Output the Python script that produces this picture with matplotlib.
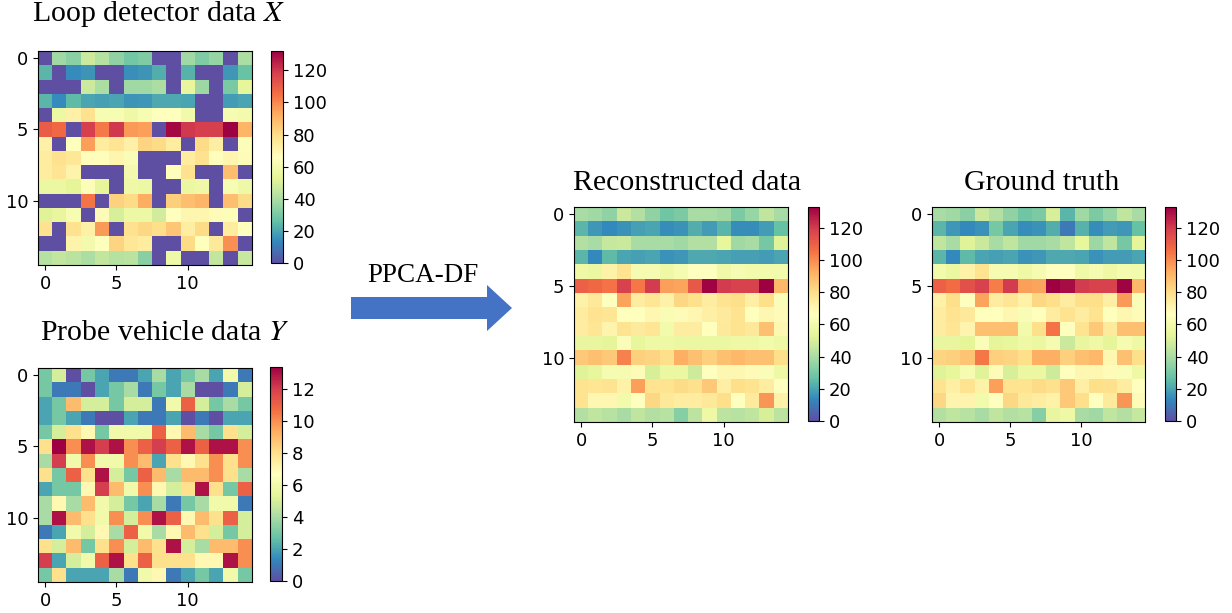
import numpy as np
import matplotlib
matplotlib.use("Agg")
import matplotlib.pyplot as plt
from matplotlib.patches import FancyArrow

plt.rcParams["mathtext.fontset"] = "stix"
plt.rcParams["font.family"] = ["DejaVu Sans"]

# Ground-truth traffic state (15 x 15)
ground_truth = [
    [40, 38, 34, 47, 42, 35, 29, 31, 50, 24, 38, 31, 36, 45, 40],
    [24, 17, 14, 16, 30, 20, 15, 16, 22, 10, 23, 15, 18, 17, 27],
    [45, 40, 52, 47, 40, 45, 38, 38, 40, 45, 55, 37, 45, 30, 54],
    [24, 14, 25, 20, 19, 20, 16, 17, 21, 21, 20, 16, 18, 18, 20],
    [60, 57, 72, 78, 62, 62, 58, 62, 66, 66, 59, 62, 58, 61, 60],
    [110, 107, 114, 118, 103, 120, 96, 95, 133, 130, 120, 118, 118, 132, 90],
    [72, 80, 66, 95, 74, 77, 72, 82, 80, 74, 80, 80, 73, 97, 64],
    [74, 78, 76, 67, 67, 70, 63, 67, 74, 78, 74, 78, 67, 70, 68],
    [74, 77, 71, 88, 88, 88, 60, 80, 105, 67, 78, 86, 75, 88, 88],
    [56, 56, 53, 64, 54, 55, 58, 57, 62, 47, 56, 58, 54, 62, 58],
    [83, 84, 87, 104, 84, 83, 80, 92, 92, 84, 88, 90, 70, 88, 80],
    [52, 55, 62, 52, 68, 50, 57, 57, 48, 66, 70, 70, 68, 64, 58],
    [78, 73, 78, 72, 96, 78, 78, 81, 79, 86, 73, 80, 79, 74, 66],
    [82, 71, 71, 60, 66, 82, 76, 74, 72, 86, 80, 66, 75, 98, 68],
    [42, 45, 43, 40, 45, 42, 43, 33, 56, 58, 40, 38, 45, 42, 46],
]

# Reconstruction from PPCA-DF
reconstructed = [
    [40, 38, 35, 47, 42, 35, 29, 31, 40, 40, 38, 31, 36, 45, 40],
    [24, 17, 14, 16, 19, 20, 15, 16, 22, 18, 24, 15, 15, 18, 27],
    [42, 40, 46, 47, 40, 40, 40, 38, 42, 42, 55, 38, 40, 30, 52],
    [24, 14, 25, 20, 19, 20, 16, 17, 21, 21, 20, 19, 19, 18, 20],
    [58, 57, 72, 78, 62, 62, 58, 62, 66, 66, 59, 62, 60, 60, 60],
    [110, 108, 105, 118, 104, 120, 96, 95, 112, 132, 120, 118, 118, 133, 90],
    [72, 76, 66, 95, 74, 77, 72, 82, 79, 74, 78, 80, 73, 80, 64],
    [74, 78, 77, 67, 67, 70, 63, 68, 70, 73, 75, 78, 67, 70, 68],
    [74, 77, 71, 78, 75, 77, 60, 74, 74, 67, 76, 78, 76, 88, 70],
    [56, 56, 54, 64, 55, 58, 58, 57, 57, 57, 57, 58, 58, 60, 58],
    [86, 88, 86, 102, 84, 83, 80, 92, 88, 84, 88, 90, 88, 88, 80],
    [52, 55, 62, 62, 68, 50, 57, 57, 48, 66, 70, 70, 68, 64, 58],
    [78, 77, 78, 72, 96, 78, 78, 81, 79, 86, 73, 80, 78, 74, 66],
    [78, 70, 70, 60, 66, 82, 76, 74, 74, 76, 80, 66, 75, 98, 72],
    [42, 45, 43, 40, 45, 42, 43, 33, 44, 58, 44, 43, 45, 50, 44],
]

# Loop detector observations (0 = missing)
loop_detector = [
    [0, 38, 34, 47, 42, 35, 29, 31, 0, 0, 38, 31, 36, 0, 40],
    [24, 0, 14, 16, 0, 0, 15, 16, 22, 0, 23, 0, 0, 17, 27],
    [0, 0, 0, 47, 40, 0, 38, 38, 40, 0, 55, 37, 0, 30, 54],
    [24, 14, 25, 20, 19, 20, 16, 17, 21, 21, 20, 0, 0, 18, 20],
    [0, 57, 72, 78, 62, 62, 58, 62, 66, 66, 59, 0, 0, 61, 60],
    [110, 107, 0, 118, 103, 120, 96, 95, 0, 130, 120, 118, 118, 132, 90],
    [72, 0, 66, 95, 74, 77, 72, 82, 80, 74, 0, 80, 73, 0, 64],
    [74, 78, 76, 67, 67, 70, 63, 0, 0, 0, 74, 78, 67, 70, 68],
    [74, 77, 71, 0, 0, 0, 60, 0, 0, 67, 78, 0, 0, 88, 0],
    [56, 56, 53, 64, 54, 0, 58, 57, 0, 0, 56, 58, 0, 62, 58],
    [0, 0, 0, 104, 0, 83, 80, 92, 0, 84, 88, 90, 0, 88, 80],
    [52, 55, 62, 0, 68, 50, 57, 57, 48, 66, 70, 70, 68, 64, 0],
    [78, 0, 78, 72, 96, 0, 78, 81, 79, 86, 73, 80, 0, 74, 66],
    [0, 0, 71, 60, 66, 82, 76, 74, 0, 0, 80, 66, 75, 98, 0],
    [42, 45, 43, 40, 45, 42, 43, 33, 0, 58, 0, 0, 45, 0, 46],
]

# Probe vehicle counts
probe_vehicle = [
    [3, 5, 0, 3, 2, 1, 1, 2, 4, 2, 3, 4, 2, 6, 1],
    [3, 1, 1, 0, 2, 3, 4, 1, 3, 2, 4, 0, 0, 1, 5],
    [2, 3, 9, 5, 5, 3, 5, 5, 1, 6, 11, 5, 3, 4, 3],
    [2, 3, 2, 1, 0, 0, 2, 1, 1, 2, 0, 1, 0, 2, 2],
    [3, 5, 8, 7, 3, 6, 6, 6, 11, 7, 9, 4, 3, 8, 5],
    [8, 13.4, 10, 13, 12, 13, 10, 11, 12, 11, 13, 11, 13, 13, 10],
    [4, 12, 6, 10, 6, 6, 10, 9, 2, 8, 7, 8, 10, 8, 10],
    [8, 3, 11, 8, 13, 5, 3, 11, 9, 4, 9, 9, 10, 8, 4],
    [2, 3, 3, 7, 12, 9, 6, 10, 7, 5, 8, 13, 8, 3, 11],
    [4, 7, 4, 9, 6, 5, 3, 2, 4, 1, 3, 4, 6, 6, 1],
    [4, 13, 9, 8, 6, 10, 5, 10, 13, 11, 7, 9, 8, 11, 5],
    [1, 2, 6, 5, 7, 4, 11, 6, 4, 7, 9, 8, 5, 3, 5],
    [8, 5, 9, 3, 8, 10, 5, 9, 8, 13, 5, 4, 9, 9, 10],
    [12, 2, 5, 6, 11, 13, 8, 11, 8, 8, 8, 7, 7, 13, 10],
    [3, 8, 2, 2, 2, 4, 1, 6, 7, 1, 2, 3, 2, 6, 3],
]

axis_ticks = [0, 5, 10]
speed_ticks = [0, 20, 40, 60, 80, 100, 120]
count_ticks = [0, 2, 4, 6, 8, 10, 12]

W, H = 1232, 613
fig = plt.figure(figsize=(W / 100, H / 100), dpi=100)


def rect(x0, y0, x1, y1):
    return [x0 / W, 1 - y1 / H, (x1 - x0) / W, (y1 - y0) / H]


def heatmap(data, box, cbox, cticks):
    ax = fig.add_axes(rect(*box))
    im = ax.imshow(np.array(data, dtype=float), cmap="Spectral_r",
                   interpolation="nearest", aspect="auto", vmin=0)
    ax.set_xticks(axis_ticks)
    ax.set_yticks(axis_ticks)
    ax.tick_params(labelsize=13)
    cax = fig.add_axes(rect(*cbox))
    cb = fig.colorbar(im, cax=cax, ticks=cticks)
    cb.ax.tick_params(labelsize=13)
    return ax


heatmap(loop_detector, (38, 51, 252, 265), (271, 51, 283, 263), speed_ticks)
heatmap(probe_vehicle, (38, 368, 252, 582), (270, 367, 282, 581), count_ticks)
heatmap(reconstructed, (574, 207, 788, 422), (808, 207, 819, 421), speed_ticks)
heatmap(ground_truth, (932, 207, 1145, 422), (1165, 207, 1176, 421), speed_ticks)

serif = ["Liberation Serif", "DejaVu Serif"]


def title(cx, base, s, size=21.5):
    fig.text(cx / W, 1 - base / H, s, ha="center", va="baseline",
             fontsize=size, family=serif)


title(158, 21, "Loop detector data $X$")
title(165, 340, "Probe vehicle data $Y$")
title(687, 190, "Reconstructed data")
title(1042, 190, "Ground truth")
title(423, 282, "PPCA-DF", size=19.5)

# Block arrow between inputs and outputs
ov = fig.add_axes([0, 0, 1, 1])
ov.set_xlim(0, W)
ov.set_ylim(H, 0)
ov.axis("off")
ov.add_patch(FancyArrow(351, 308, 161, 0, width=22, head_width=46,
                        head_length=25, length_includes_head=True,
                        color="#4472C4", linewidth=0))

fig.savefig("out.png", dpi=100)
